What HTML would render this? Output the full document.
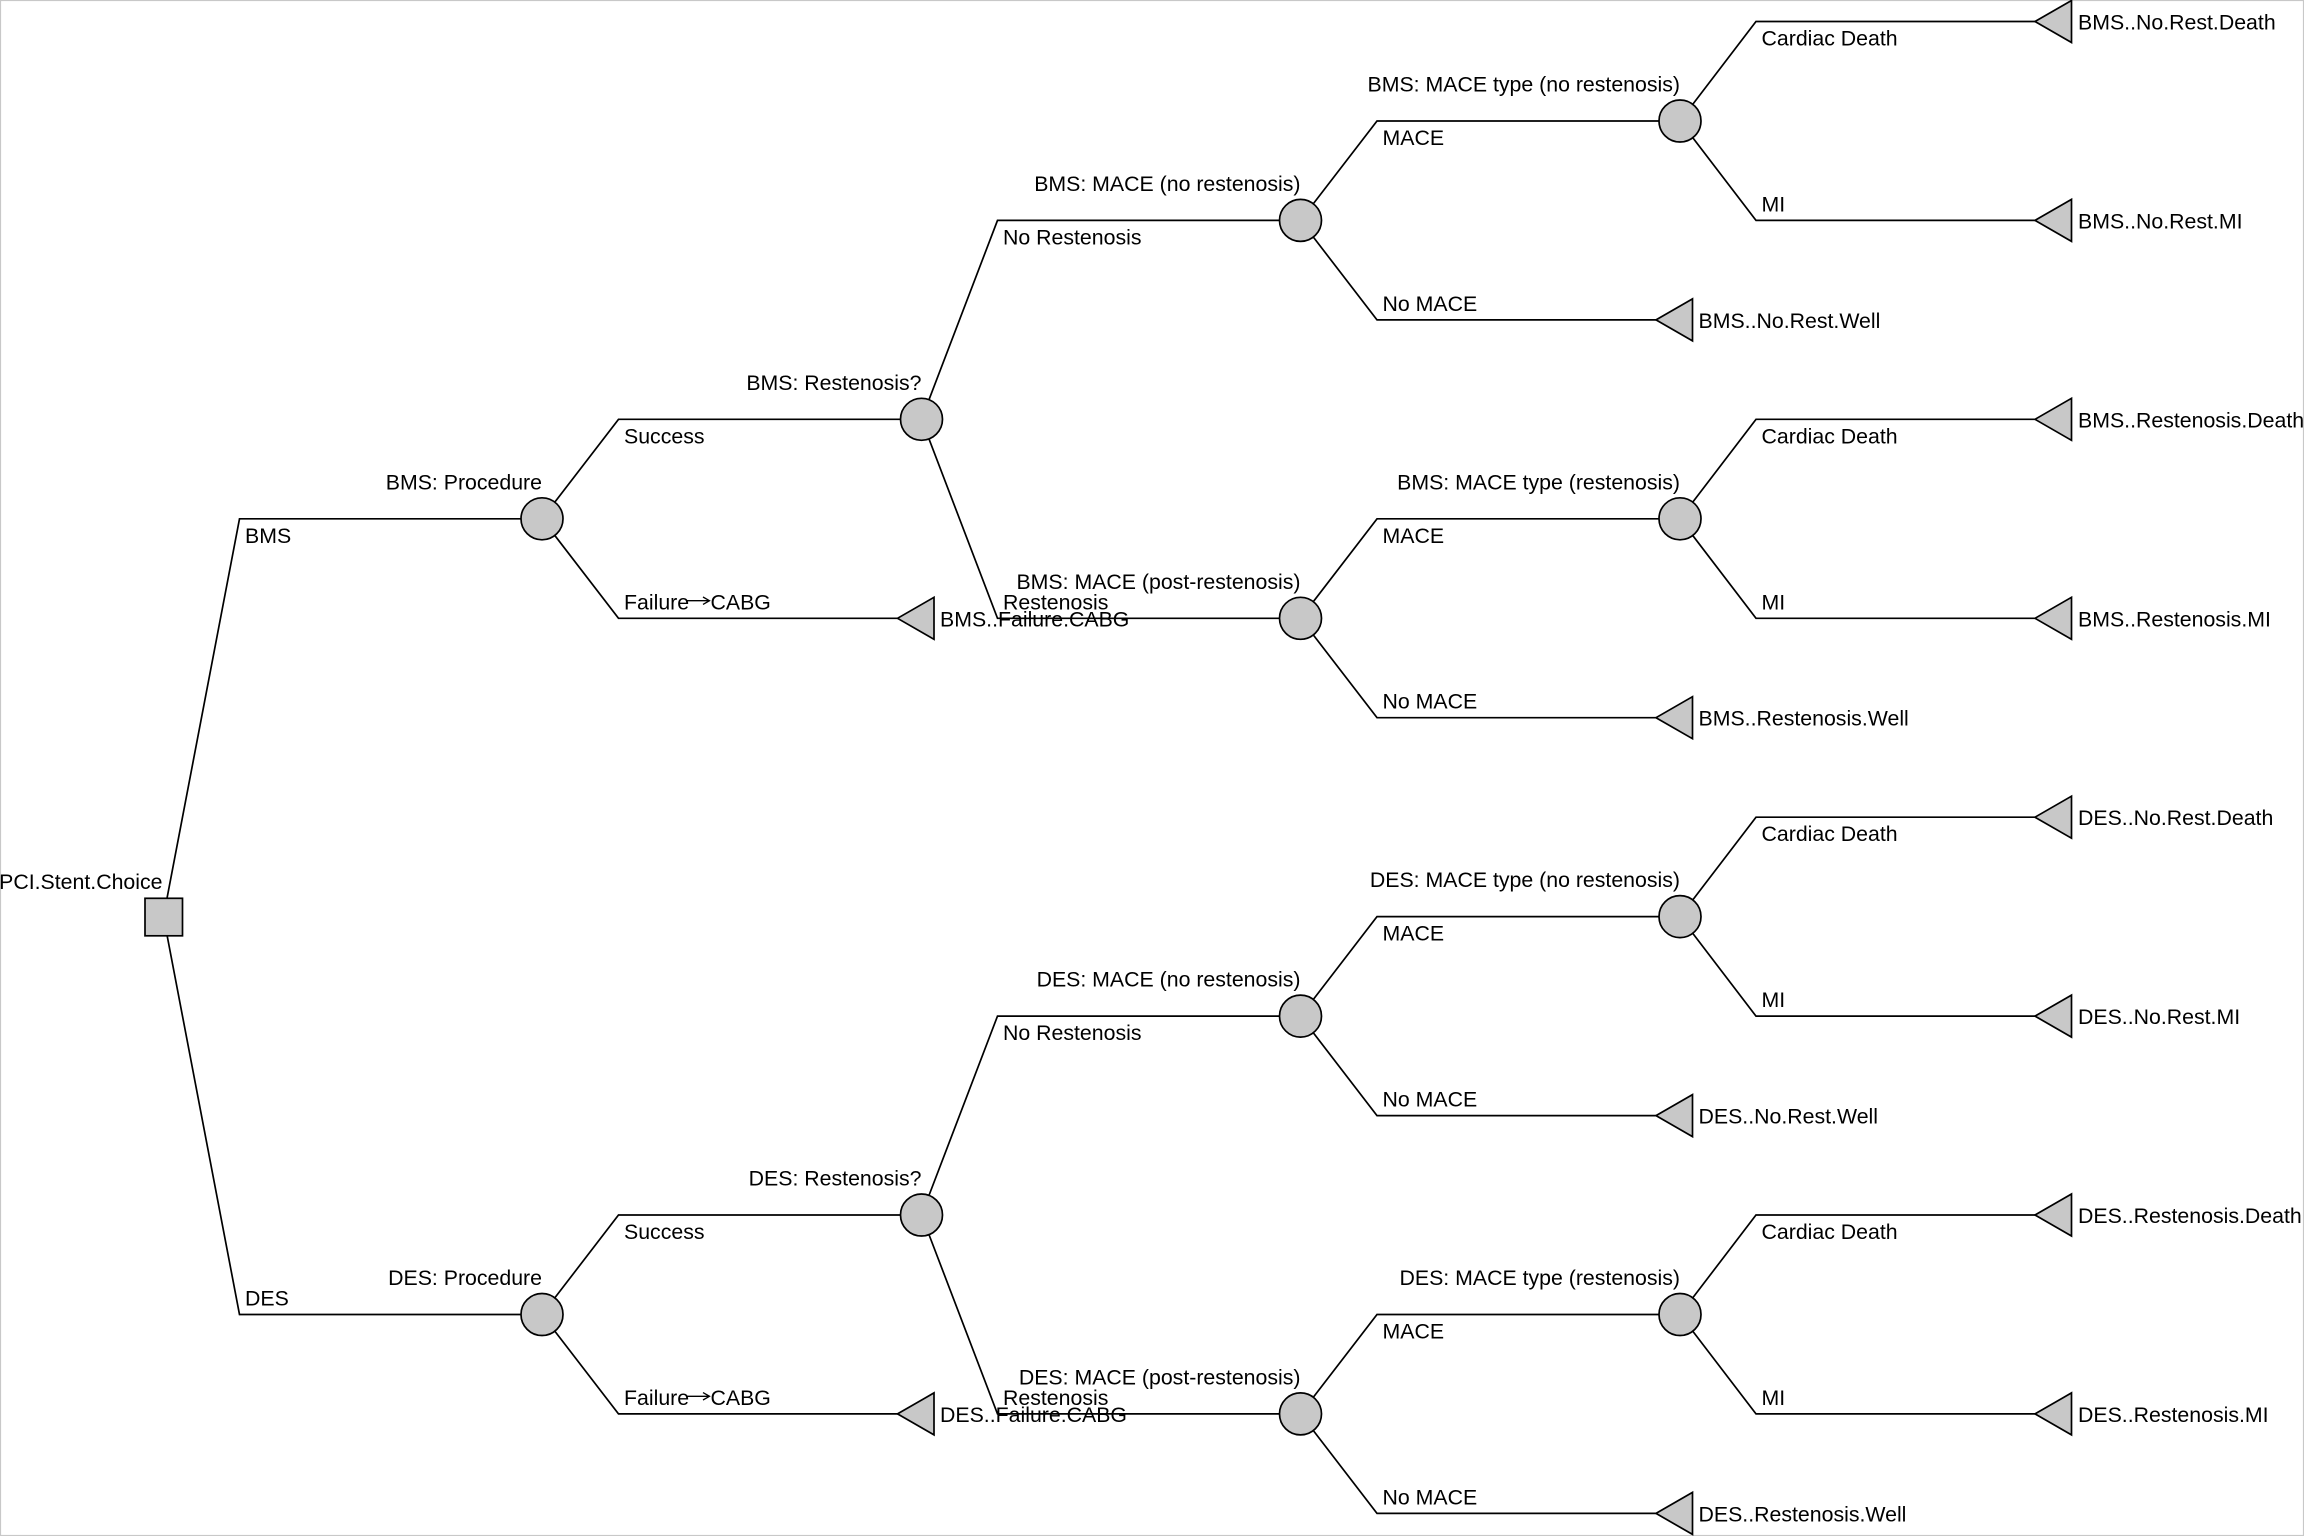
<!DOCTYPE html>
<html>
<head>
<meta charset="utf-8">
<style>
html,body{margin:0;padding:0;background:#fff;}
svg{display:block;}
text{font-family:"Liberation Sans",Arial,sans-serif;font-size:21.3px;fill:#000;}
.n{text-anchor:end;}
</style>
</head>
<body>
<svg width="2304" height="1536" viewBox="0 0 2304 1536" xmlns="http://www.w3.org/2000/svg">
<rect x="0" y="0" width="2304" height="1536" fill="#fff"/>
<rect x="0.5" y="0.5" width="2303" height="1535" fill="none" stroke="#c8c8c8" stroke-width="1.2"/>

<g fill="none" stroke="#000" stroke-width="1.7" stroke-linejoin="miter">
<path d="M163.5,916.6 L239.5,518.8 L542,518.8"/>
<path d="M163.5,916.6 L239.5,1314.5 L542,1314.5"/>
<path d="M542,518.8 L618.5,419.3 L921.5,419.3"/>
<path d="M542,518.8 L618.5,618.3 L921.5,618.3"/>
<path d="M542,1314.5 L618.5,1215 L921.5,1215"/>
<path d="M542,1314.5 L618.5,1413.9 L921.5,1413.9"/>
<path d="M921.5,419.3 L997.5,220.4 L1300.5,220.4"/>
<path d="M921.5,419.3 L997.5,618.3 L1300.5,618.3"/>
<path d="M921.5,1215 L997.5,1016.1 L1300.5,1016.1"/>
<path d="M921.5,1215 L997.5,1413.9 L1300.5,1413.9"/>
<path d="M1300.5,220.4 L1377,121 L1680,121"/>
<path d="M1300.5,220.4 L1377,319.9 L1680,319.9"/>
<path d="M1300.5,618.3 L1377,518.8 L1680,518.8"/>
<path d="M1300.5,618.3 L1377,717.7 L1680,717.7"/>
<path d="M1300.5,1016.1 L1377,916.6 L1680,916.6"/>
<path d="M1300.5,1016.1 L1377,1115.6 L1680,1115.6"/>
<path d="M1300.5,1413.9 L1377,1314.5 L1680,1314.5"/>
<path d="M1300.5,1413.9 L1377,1513.4 L1680,1513.4"/>
<path d="M1680,121 L1756,21.5 L2059,21.5"/>
<path d="M1680,121 L1756,220.4 L2059,220.4"/>
<path d="M1680,518.8 L1756,419.3 L2059,419.3"/>
<path d="M1680,518.8 L1756,618.3 L2059,618.3"/>
<path d="M1680,916.6 L1756,817.2 L2059,817.2"/>
<path d="M1680,916.6 L1756,1016.1 L2059,1016.1"/>
<path d="M1680,1314.5 L1756,1215 L2059,1215"/>
<path d="M1680,1314.5 L1756,1413.9 L2059,1413.9"/>
</g>

<g fill="#c8c8c8" stroke="#000" stroke-width="1.7">
<rect x="145" y="898.3" width="37.5" height="37.5"/>
<circle cx="542" cy="518.8" r="21"/>
<circle cx="542" cy="1314.5" r="21"/>
<circle cx="921.5" cy="419.3" r="21"/>
<circle cx="921.5" cy="1215" r="21"/>
<circle cx="1300.5" cy="220.4" r="21"/>
<circle cx="1300.5" cy="618.3" r="21"/>
<circle cx="1300.5" cy="1016.1" r="21"/>
<circle cx="1300.5" cy="1413.9" r="21"/>
<circle cx="1680" cy="121" r="21"/>
<circle cx="1680" cy="518.8" r="21"/>
<circle cx="1680" cy="916.6" r="21"/>
<circle cx="1680" cy="1314.5" r="21"/>
<polygon points="897.5,618.3 934,597.3 934,639.3"/>
<polygon points="897.5,1413.9 934,1392.9 934,1434.9"/>
<polygon points="1656,319.9 1692.5,298.9 1692.5,340.9"/>
<polygon points="1656,717.7 1692.5,696.7 1692.5,738.7"/>
<polygon points="1656,1115.6 1692.5,1094.6 1692.5,1136.6"/>
<polygon points="1656,1513.4 1692.5,1492.4 1692.5,1534.4"/>
<polygon points="2035,21.5 2071.5,0.5 2071.5,42.5"/>
<polygon points="2035,220.4 2071.5,199.4 2071.5,241.4"/>
<polygon points="2035,419.3 2071.5,398.3 2071.5,440.3"/>
<polygon points="2035,618.3 2071.5,597.3 2071.5,639.3"/>
<polygon points="2035,817.2 2071.5,796.2 2071.5,838.2"/>
<polygon points="2035,1016.1 2071.5,995.1 2071.5,1037.1"/>
<polygon points="2035,1215 2071.5,1194 2071.5,1236"/>
<polygon points="2035,1413.9 2071.5,1392.9 2071.5,1434.9"/>
</g>

<!-- node labels -->
<text class="n" x="162.5" y="889">PCI.Stent.Choice</text>
<text class="n" x="542" y="489.3">BMS: Procedure</text>
<text class="n" x="542" y="1285">DES: Procedure</text>
<text class="n" x="921.5" y="389.8">BMS: Restenosis?</text>
<text class="n" x="921.5" y="1185.5">DES: Restenosis?</text>
<text class="n" x="1300.5" y="190.9">BMS: MACE (no restenosis)</text>
<text class="n" x="1300.5" y="588.8">BMS: MACE (post-restenosis)</text>
<text class="n" x="1300.5" y="986.6">DES: MACE (no restenosis)</text>
<text class="n" x="1300.5" y="1384.4">DES: MACE (post-restenosis)</text>
<text class="n" x="1680" y="91.5">BMS: MACE type (no restenosis)</text>
<text class="n" x="1680" y="489.3">BMS: MACE type (restenosis)</text>
<text class="n" x="1680" y="887.1">DES: MACE type (no restenosis)</text>
<text class="n" x="1680" y="1285">DES: MACE type (restenosis)</text>

<!-- branch labels -->
<text x="245" y="542.8">BMS</text>
<text x="245" y="1305.5">DES</text>
<text x="624" y="443.3">Success</text>
<text x="624" y="1239">Success</text>
<text x="624" y="609.3">Failure</text>
<text x="710.5" y="609.3">CABG</text>
<text x="624" y="1404.9">Failure</text>
<text x="710.5" y="1404.9">CABG</text>
<text x="1003" y="244.4">No Restenosis</text>
<text x="1003" y="609.3">Restenosis</text>
<text x="1003" y="1040.1">No Restenosis</text>
<text x="1003" y="1404.9">Restenosis</text>
<text x="1382.5" y="145">MACE</text>
<text x="1382.5" y="310.9">No MACE</text>
<text x="1382.5" y="542.8">MACE</text>
<text x="1382.5" y="708.7">No MACE</text>
<text x="1382.5" y="940.6">MACE</text>
<text x="1382.5" y="1106.6">No MACE</text>
<text x="1382.5" y="1338.5">MACE</text>
<text x="1382.5" y="1504.4">No MACE</text>
<text x="1761.5" y="45.5">Cardiac Death</text>
<text x="1761.5" y="211.4">MI</text>
<text x="1761.5" y="443.3">Cardiac Death</text>
<text x="1761.5" y="609.3">MI</text>
<text x="1761.5" y="841.2">Cardiac Death</text>
<text x="1761.5" y="1007.1">MI</text>
<text x="1761.5" y="1239">Cardiac Death</text>
<text x="1761.5" y="1404.9">MI</text>

<!-- arrows in Failure→CABG -->
<g fill="none" stroke="#000" stroke-width="1.3">
<path d="M687,600.7 L709.5,600.7 M703,597 L709.5,600.7 L703,604.4"/>
<path d="M687,1396.3 L709.5,1396.3 M703,1392.6 L709.5,1396.3 L703,1400"/>
</g>

<!-- terminal labels -->
<text x="940" y="626.3">BMS..Failure.CABG</text>
<text x="940" y="1421.9">DES..Failure.CABG</text>
<text x="1698.5" y="327.9">BMS..No.Rest.Well</text>
<text x="1698.5" y="725.7">BMS..Restenosis.Well</text>
<text x="1698.5" y="1123.6">DES..No.Rest.Well</text>
<text x="1698.5" y="1521.4">DES..Restenosis.Well</text>
<text x="2078" y="29.5">BMS..No.Rest.Death</text>
<text x="2078" y="228.4">BMS..No.Rest.MI</text>
<text x="2078" y="427.3">BMS..Restenosis.Death</text>
<text x="2078" y="626.3">BMS..Restenosis.MI</text>
<text x="2078" y="825.2">DES..No.Rest.Death</text>
<text x="2078" y="1024.1">DES..No.Rest.MI</text>
<text x="2078" y="1223">DES..Restenosis.Death</text>
<text x="2078" y="1421.9">DES..Restenosis.MI</text>
</svg>
</body>
</html>
